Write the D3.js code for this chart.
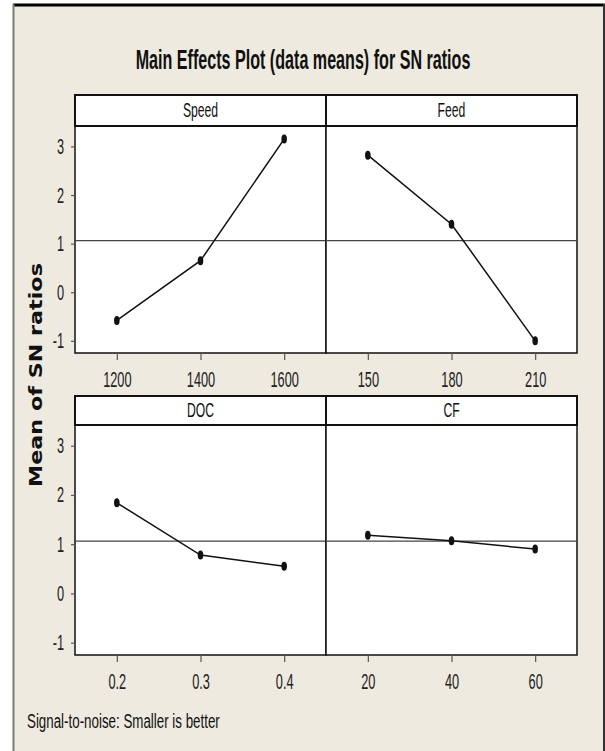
<!DOCTYPE html>
<html>
<head>
<meta charset="utf-8">
<script src="https://cdn.jsdelivr.net/npm/d3@7"></script>
<style>
  body { margin: 0; background: #fff; }
  svg { display: block; }
</style>
</head>
<body>
<div id="chart"></div>
<script>
// factor names and levels
const factors = ['Speed', 'Feed', 'DOC', 'CF'];
const speedLevels = ['1200', '1400', '1600'];
const feedLevels = ['150', '180', '210'];
const docLevels = ['0.2', '0.3', '0.4'];
const cfLevels = ['20', '40', '60'];

// mean of SN ratios per level
const speedMeans = [-0.58, 0.65, 3.15];
const feedMeans = [2.82, 1.40, -1.00];
const docMeans = [1.84, 0.78, 0.55];
const cfMeans = [1.18, 1.07, 0.90];

const yTicks = [-1, 0, 1, 2, 3];

const title = 'Main Effects Plot (data means) for SN ratios';
const yLabel = 'Mean of SN ratios';
const footNote = 'Signal-to-noise: Smaller is better';

const W = 605, H = 751;
const panelLeft = 75, panelW = 251;
const rows = [
  { stripTop: 95, stripH: 31, plotTop: 126, plotH: 227 },
  { stripTop: 396, stripH: 29, plotTop: 425, plotH: 230 }
];
const sx = 0.58; // horizontal squeeze of the narrow labels
const narrowFont = 'Liberation Sans, Arial, sans-serif';

const panels = [
  { name: factors[0], levels: speedLevels, values: speedMeans, row: 0, col: 0 },
  { name: factors[1], levels: feedLevels, values: feedMeans, row: 0, col: 1 },
  { name: factors[2], levels: docLevels, values: docMeans, row: 1, col: 0 },
  { name: factors[3], levels: cfLevels, values: cfMeans, row: 1, col: 1 }
];

const grandMean = d3.mean(speedMeans.concat(feedMeans, docMeans, cfMeans));

const svg = d3.select('#chart')
  .append('svg')
  .attr('width', W)
  .attr('height', H);

// background and frame
svg.append('rect')
  .attr('x', 13).attr('y', 4)
  .attr('width', W - 13).attr('height', H - 4)
  .attr('fill', '#eeeae0');
svg.append('line')
  .attr('x1', 13).attr('x2', W).attr('y1', 5).attr('y2', 5)
  .attr('stroke', '#000').attr('stroke-width', 3);
svg.append('line')
  .attr('x1', 13.5).attr('x2', 13.5).attr('y1', 4).attr('y2', H)
  .attr('stroke', '#7a7a7a').attr('stroke-width', 2);
svg.append('line')
  .attr('x1', W - 1).attr('x2', W - 1).attr('y1', 4).attr('y2', H)
  .attr('stroke', '#333').attr('stroke-width', 2);

// squeeze a text to a given width around its anchor point
function fitWidth(sel, cx, cy, width, rot) {
  const n = sel.node();
  const k = width / n.getComputedTextLength();
  sel.attr('x', 0).attr('y', 0)
    .attr('transform', `translate(${cx},${cy})` + (rot ? ` rotate(${rot})` : '') + ` scale(${k},1)`);
}

// title
svg.append('text')
  .attr('text-anchor', 'middle')
  .attr('font-family', narrowFont)
  .attr('font-weight', 'bold')
  .attr('font-size', 27)
  .attr('fill', '#111')
  .text(title)
  .call(fitWidth, 303, 69, 335);

// y axis title
svg.append('text')
  .attr('text-anchor', 'middle')
  .attr('font-family', 'DejaVu Sans, Verdana, sans-serif')
  .attr('font-weight', 'bold')
  .attr('font-size', 17)
  .attr('fill', '#111')
  .text(yLabel)
  .call(fitWidth, 42, 375, 224, -90);

// foot note
svg.append('text')
  .attr('font-family', narrowFont)
  .attr('font-size', 21)
  .attr('fill', '#111')
  .text(footNote)
  .call(fitWidth, 27, 728, 193);

function squeeze(sel) {
  sel.each(function () {
    const t = d3.select(this);
    const x = +t.attr('x') || 0;
    t.attr('x', x / sx).attr('transform', `scale(${sx},1)`);
  });
}

panels.forEach(p => {
  const r = rows[p.row];
  const x0 = panelLeft + p.col * panelW;
  const g = svg.append('g').attr('transform', `translate(${x0},0)`);

  const x = d3.scalePoint()
    .domain(p.levels)
    .range([0, panelW])
    .padding(0.5);
  const y = d3.scaleLinear()
    .domain([-1.25, 3.42])
    .range([r.plotTop + r.plotH, r.plotTop]);

  // plot area
  g.append('rect')
    .attr('x', 0).attr('y', r.plotTop)
    .attr('width', panelW).attr('height', r.plotH)
    .attr('fill', '#fff')
    .attr('stroke', '#111').attr('stroke-width', 1.5);

  // strip
  g.append('rect')
    .attr('x', 0).attr('y', r.stripTop)
    .attr('width', panelW).attr('height', r.stripH)
    .attr('fill', '#fff')
    .attr('stroke', '#111').attr('stroke-width', 2);
  g.append('text')
    .attr('x', panelW / 2)
    .attr('y', r.stripTop + r.stripH / 2 + 7)
    .attr('text-anchor', 'middle')
    .attr('font-family', narrowFont)
    .attr('font-size', 21)
    .attr('fill', '#111')
    .text(p.name)
    .call(squeeze);

  // reference line at grand mean
  g.append('line')
    .attr('x1', 0).attr('x2', panelW)
    .attr('y1', y(grandMean)).attr('y2', y(grandMean))
    .attr('stroke', '#444').attr('stroke-width', 1.2);

  // x axis
  const xa = g.append('g')
    .attr('transform', `translate(0,${r.plotTop + r.plotH})`)
    .call(d3.axisBottom(x).tickSize(7).tickPadding(11));
  xa.select('.domain').remove();
  xa.selectAll('line').attr('stroke', '#555').attr('stroke-width', 1.2);
  xa.selectAll('text')
    .attr('font-family', narrowFont)
    .attr('font-size', 22)
    .attr('fill', '#222')
    .call(squeeze);

  // y axis on the left column only
  if (p.col === 0) {
    const ya = g.append('g')
      .call(d3.axisLeft(y).tickValues(yTicks).tickFormat(d => String(d)).tickSize(4).tickPadding(7));
    ya.select('.domain').remove();
    ya.selectAll('line').attr('stroke', '#555').attr('stroke-width', 1.2);
    ya.selectAll('text')
      .attr('font-family', narrowFont)
      .attr('font-size', 22)
      .attr('fill', '#222')
      .call(squeeze);
  }

  // effect line and points
  const pts = p.levels.map((l, i) => ({ l, v: p.values[i] }));
  g.append('path')
    .datum(pts)
    .attr('fill', 'none')
    .attr('stroke', '#111')
    .attr('stroke-width', 1.5)
    .attr('d', d3.line().x(d => x(d.l)).y(d => y(d.v)));
  g.selectAll('ellipse.pt')
    .data(pts)
    .join('ellipse')
    .attr('class', 'pt')
    .attr('cx', d => x(d.l))
    .attr('cy', d => y(d.v))
    .attr('rx', 2.8).attr('ry', 4.5)
    .attr('fill', '#111');
});
</script>
</body>
</html>
